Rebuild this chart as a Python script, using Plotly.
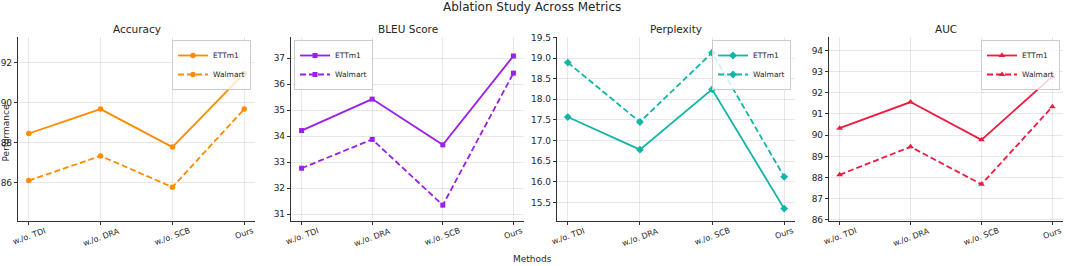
import plotly.graph_objects as go

methods = ["w./o. TDI", "w./o. DRA", "w./o. SCB", "Ours"]

acc_ettm1 = [88.45, 89.67, 87.77, 91.45]
acc_walmart = [86.10, 87.33, 85.77, 89.67]
bleu_ettm1 = [34.22, 35.43, 33.67, 37.09]
bleu_walmart = [32.77, 33.88, 31.35, 36.43]
ppl_ettm1 = [17.57, 16.78, 18.24, 15.35]
ppl_walmart = [18.89, 17.45, 19.13, 16.12]
auc_ettm1 = [90.33, 91.56, 89.78, 92.77]
auc_walmart = [88.13, 89.45, 87.68, 91.34]

metric_titles = ["Accuracy", "BLEU Score", "Perplexity", "AUC"]
series = [(acc_ettm1, acc_walmart), (bleu_ettm1, bleu_walmart),
          (ppl_ettm1, ppl_walmart), (auc_ettm1, auc_walmart)]
colors = ["#FF8C00", "#9B1FE8", "#10B5A8", "#EE1A40"]
symbols = ["circle", "square", "diamond", "triangle-up"]
msizes = [5.5, 5, 6, 6]
yranges = [[84.08, 93.27], [30.74, 37.82], [15.05, 19.51], [85.95, 94.63]]
dticks = [2, 1, 0.5, 1]
tickfmts = ["d", "d", ".1f", "d"]

W, H = 1065, 266
px_domains = [(18, 255), (291, 524), (557, 795), (829, 1063)]
ytop, ybot = 37, 221
legend_pos = [("right", 251), ("left", 294), ("right", 791), ("right", 1060)]

fig = go.Figure()
FONT = "DejaVu Sans"
TXT = "#262626"
for i in range(4):
    xa = "x" if i == 0 else f"x{i+1}"
    ya = "y" if i == 0 else f"y{i+1}"
    lg = "legend" if i == 0 else f"legend{i+1}"
    e, w = series[i]
    for name, vals, dash in [("ETTm1", e, "solid"), ("Walmart", w, "6px,3px")]:
        fig.add_trace(go.Scatter(
            x=list(range(len(methods))), y=vals, name=name, mode="lines+markers",
            line=dict(color=colors[i], width=1.8, dash=dash),
            marker=dict(symbol=symbols[i], size=msizes[i], color=colors[i]),
            xaxis=xa, yaxis=ya, legend=lg, showlegend=True))
    d0, d1 = px_domains[i]
    axkw = dict(showline=True, linecolor="#333333", linewidth=1.2, mirror=False,
                ticks="outside", ticklen=3, tickcolor="#333333", automargin=False,
                ticklabeloverflow="allow",
                showgrid=True, gridcolor="rgba(0,0,0,0.09)", gridwidth=1, zeroline=False)
    fig.update_layout(**{
        ("xaxis" if i == 0 else f"xaxis{i+1}"): dict(
            domain=[d0 / W, d1 / W], anchor=ya, range=[-0.15, 3.15],
            tickmode="array", tickvals=list(range(4)), showticklabels=False, **axkw),
        ("yaxis" if i == 0 else f"yaxis{i+1}"): dict(
            domain=[1 - ybot / H, 1 - ytop / H], anchor=xa, range=yranges[i],
            dtick=dticks[i], tickformat=tickfmts[i],
            tickfont=dict(size=9, family=FONT, color=TXT), **axkw),
    })
    # rotated, centred category labels (matplotlib style)
    for j, m in enumerate(methods):
        fig.add_annotation(text=m, x=j, xref=xa, y=1 - 225 / H, yref="paper",
                           showarrow=False, textangle=-20, xanchor="center",
                           yanchor="top", borderpad=0,
                           font=dict(size=8, family=FONT, color=TXT))
    side, xpx = legend_pos[i]
    fig.update_layout(**{lg: dict(
        x=xpx / W, y=1 - 40 / H, xanchor=side, yanchor="top",
        bgcolor="rgba(255,255,255,0.8)", bordercolor="#cccccc", borderwidth=1,
        font=dict(size=7.5, family=FONT, color=TXT), itemwidth=30,
        tracegroupgap=0)})
    fig.add_annotation(text=metric_titles[i], x=(d0 + d1) / 2 / W, y=1 - 29 / H,
                       xref="paper", yref="paper", showarrow=False,
                       font=dict(size=10.5, family=FONT, color=TXT),
                       xanchor="center", yanchor="middle")

fig.add_annotation(text="Ablation Study Across Metrics", x=532 / W, y=1 - 7 / H,
                   xref="paper", yref="paper", showarrow=False,
                   font=dict(size=12, family=FONT, color=TXT),
                   xanchor="center", yanchor="middle")
fig.add_annotation(text="Methods", x=532 / W, y=1 - 259 / H,
                   xref="paper", yref="paper", showarrow=False,
                   font=dict(size=9, family=FONT, color=TXT),
                   xanchor="center", yanchor="middle")
fig.add_annotation(text="Performance", x=5.5 / W, y=0.5, textangle=-90,
                   xref="paper", yref="paper", showarrow=False,
                   font=dict(size=9, family=FONT, color=TXT),
                   xanchor="center", yanchor="middle")

fig.update_layout(template="none", width=W, height=H,
                  margin=dict(l=0, r=0, t=0, b=0, autoexpand=False),
                  plot_bgcolor="white", paper_bgcolor="white",
                  font=dict(family=FONT))
fig.write_html("out.html", config={"displayModeBar": False},
               post_script="document.body.style.margin='0';document.body.style.overflow='hidden';")
